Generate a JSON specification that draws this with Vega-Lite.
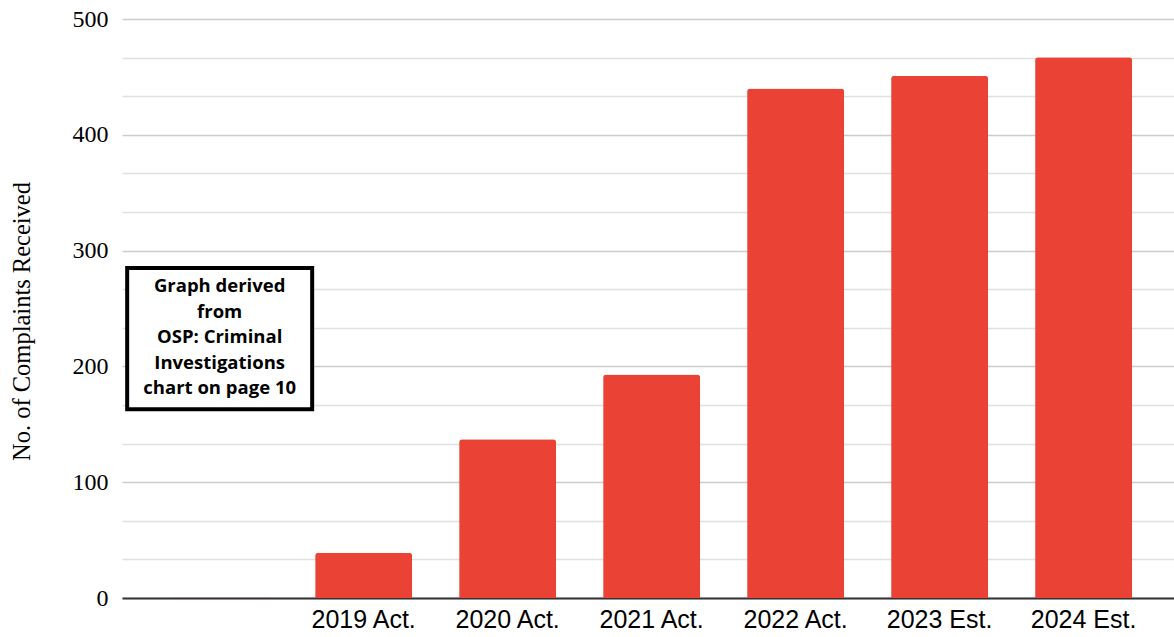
{
  "$schema": "https://vega.github.io/schema/vega-lite/v6.json",
  "width": 1052,
  "height": 579,
  "autosize": {"type": "none"},
  "padding": {"left": 122, "top": 19, "right": 0, "bottom": 39},
  "background": "white",
  "config": {"view": {"stroke": null}},
  "datasets": {
    "bars": [
      {"category": " ", "complaints": 0.5},
      {"category": "2019 Act.", "complaints": 39},
      {"category": "2020 Act.", "complaints": 137},
      {"category": "2021 Act.", "complaints": 193},
      {"category": "2022 Act.", "complaints": 440},
      {"category": "2023 Est.", "complaints": 451},
      {"category": "2024 Est.", "complaints": 467}
    ],
    "note": [
      {"category": " ", "lo": 163, "hi": 285, "textY": 269.4, "text": "Graph derived\nfrom\nOSP: Criminal\nInvestigations\nchart on page 10"}
    ]
  },
  "layer": [
    {
      "data": {"name": "bars"},
      "mark": {"type": "bar", "color": "#EA4335", "cornerRadiusTopLeft": 3, "cornerRadiusTopRight": 3},
      "encoding": {
        "x": {
          "field": "category", "type": "nominal",
          "sort": [" ", "2019 Act.", "2020 Act.", "2021 Act.", "2022 Act.", "2023 Est.", "2024 Est."],
          "scale": {"paddingInner": 0.326, "paddingOuter": 0.316, "align": 0.54},
          "axis": {
            "title": null, "labelAngle": 0, "ticks": false,
            "domainColor": "#333333", "domainWidth": 2,
            "labelFont": "Liberation Sans", "labelFontSize": 25, "labelColor": "#000000",
            "labelPadding": 9
          }
        },
        "y": {
          "field": "complaints", "type": "quantitative",
          "scale": {"domain": [0, 500], "nice": false},
          "axis": {
            "title": "No. of Complaints Received",
            "titleFont": "Liberation Serif", "titleFontSize": 24.5, "titleFontWeight": "normal", "titleColor": "#000000",
            "titlePadding": 38,
            "titleY": 302,
            "tickCount": 40,
            "values": [0, 33.3333, 66.6667, 100, 133.3333, 166.6667, 200, 233.3333, 266.6667, 300, 333.3333, 366.6667, 400, 433.3333, 466.6667, 500],
            "labelExpr": "datum.value % 100 === 0 ? datum.label : ''",
            "labelOverlap": false,
            "labelFont": "Liberation Serif", "labelFontSize": 24, "labelColor": "#000000",
            "labelPadding": 14,
            "ticks": false, "domain": false,
            "gridColor": {"condition": {"test": "datum.value % 100 === 0", "value": "#cccccc"}, "value": "#e0e0e0"},
            "gridWidth": 1.5
          }
        }
      }
    },
    {
      "data": {"name": "note"},
      "mark": {"type": "bar", "width": 185, "fill": "white", "stroke": "black", "strokeWidth": 4},
      "encoding": {
        "x": {"field": "category", "type": "nominal"},
        "y": {"field": "lo", "type": "quantitative"},
        "y2": {"field": "hi"}
      }
    },
    {
      "data": {"name": "note"},
      "mark": {"type": "text", "lineBreak": "\n", "font": "Open Sans", "fontWeight": "bold", "fontSize": 18.5, "lineHeight": 25.5, "align": "center", "baseline": "middle", "color": "black"},
      "encoding": {
        "x": {"field": "category", "type": "nominal"},
        "y": {"field": "textY", "type": "quantitative"},
        "text": {"field": "text"}
      }
    }
  ]
}
